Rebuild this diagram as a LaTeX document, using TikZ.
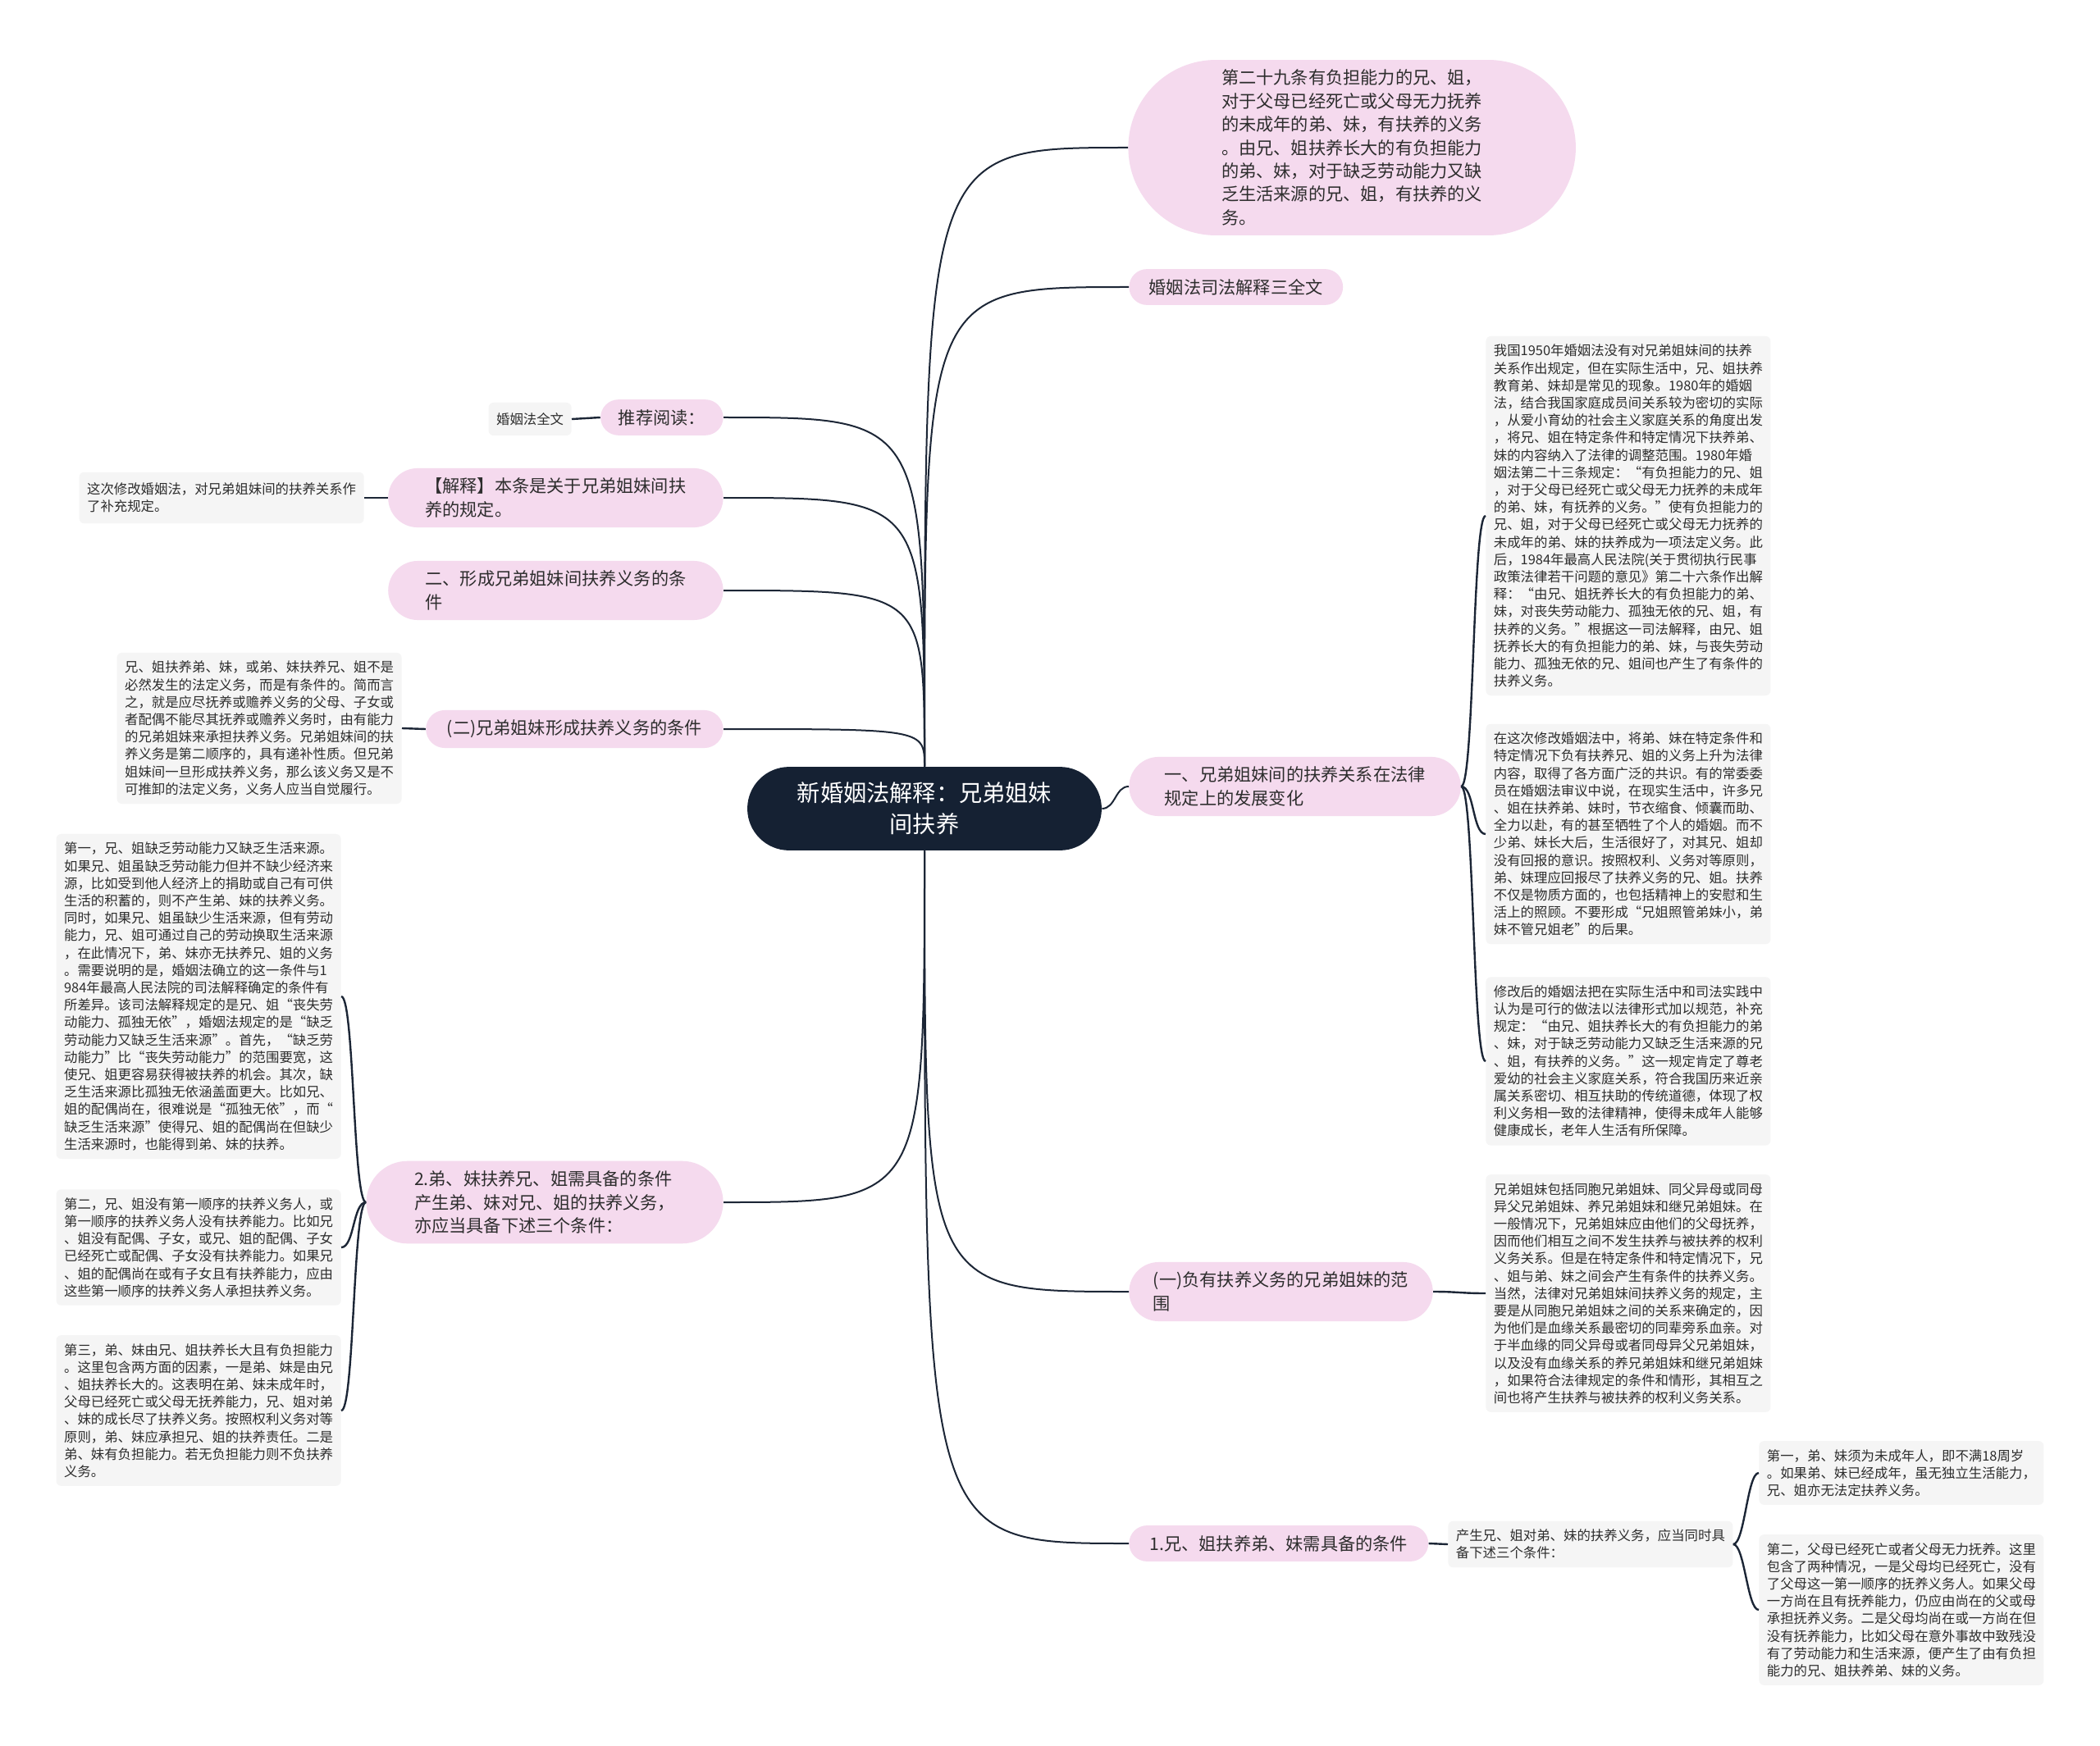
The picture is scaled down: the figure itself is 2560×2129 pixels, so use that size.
\documentclass[tikz,border=0pt]{standalone}
\usepackage{fontspec}
\setmainfont{Noto Sans CJK SC}
\usetikzlibrary{shapes.misc}
\definecolor{pinkfill}{RGB}{245,218,238}
\definecolor{grayfill}{RGB}{245,245,245}
\definecolor{rootfill}{RGB}{21,33,51}
\definecolor{linkcol}{RGB}{28,38,54}
\definecolor{textcol}{RGB}{45,45,45}

\begin{document}
\begin{tikzpicture}[x=0.5pt,y=-0.5pt,
  root/.style={rounded rectangle,fill=rootfill,text=white,align=center,
    inner xsep=24.8pt,inner ysep=9.5pt,font=\fontsize{14.1}{18.8}\selectfont},
  topic/.style={rounded rectangle,fill=pinkfill,text=textcol,align=left,
    inner xsep=11pt,inner ysep=6pt,font=\fontsize{10.6}{14.2}\selectfont},
  bigtopic/.style={topic,inner xsep=18pt},
  note/.style={rectangle,rounded corners=3pt,fill=grayfill,text=textcol,align=left,
    inner xsep=4.75pt,inner ysep=5pt,font=\fontsize{8.2}{10.6}\selectfont},
  link/.style={draw=linkcol,line width=1pt},
  sublink/.style={draw=linkcol,line width=1.2pt}]
\fill[white] (0,0) rectangle (2560,2129);
\useasboundingbox (0,0) rectangle (2560,2129);
% ---- root ----
\node[root] (root) at (1127,986) {新婚姻法解释：兄弟姐妹\\间扶养};
% ---- right: topics ----
\node[topic,anchor=west,inner xsep=28pt] (art29) at (1375,180) {第二十九条有负担能力的兄、姐，\\对于父母已经死亡或父母无力抚养\\的未成年的弟、妹，有扶养的义务\\。由兄、姐扶养长大的有负担能力\\的弟、妹，对于缺乏劳动能力又缺\\乏生活来源的兄、姐，有扶养的义\\务。};
\node[topic,anchor=west] (quanwen) at (1376,350) {婚姻法司法解释三全文};
\node[bigtopic,anchor=west,inner xsep=17pt] (yi) at (1376,959) {一、兄弟姐妹间的扶养关系在法律\\规定上的发展变化};
\node[bigtopic,anchor=west,inner xsep=10.2pt] (fanwei) at (1376,1575) {(一)负有扶养义务的兄弟姐妹的范\\围};
\node[topic,anchor=west,inner xsep=11.4pt] (xiongjie) at (1376,1882) {1.兄、姐扶养弟、妹需具备的条件};
% ---- right: notes ----
\node[note,anchor=west] (rb1) at (1811,629) {我国1950年婚姻法没有对兄弟姐妹间的扶养\\关系作出规定，但在实际生活中，兄、姐扶养\\教育弟、妹却是常见的现象。1980年的婚姻\\法，结合我国家庭成员间关系较为密切的实际\\，从爱小育幼的社会主义家庭关系的角度出发\\，将兄、姐在特定条件和特定情况下扶养弟、\\妹的内容纳入了法律的调整范围。1980年婚\\姻法第二十三条规定：“有负担能力的兄、姐\\，对于父母已经死亡或父母无力抚养的未成年\\的弟、妹，有抚养的义务。”使有负担能力的\\兄、姐，对于父母已经死亡或父母无力抚养的\\未成年的弟、妹的扶养成为一项法定义务。此\\后，1984年最高人民法院(关于贯彻执行民事\\政策法律若干问题的意见》第二十六条作出解\\释：“由兄、姐抚养长大的有负担能力的弟、\\妹，对丧失劳动能力、孤独无依的兄、姐，有\\扶养的义务。”根据这一司法解释，由兄、姐\\抚养长大的有负担能力的弟、妹，与丧失劳动\\能力、孤独无依的兄、姐间也产生了有条件的\\扶养义务。};
\node[note,anchor=west] (rb2) at (1811,1017) {在这次修改婚姻法中，将弟、妹在特定条件和\\特定情况下负有扶养兄、姐的义务上升为法律\\内容，取得了各方面广泛的共识。有的常委委\\员在婚姻法审议中说，在现实生活中，许多兄\\、姐在扶养弟、妹时，节衣缩食、倾囊而助、\\全力以赴，有的甚至牺牲了个人的婚姻。而不\\少弟、妹长大后，生活很好了，对其兄、姐却\\没有回报的意识。按照权利、义务对等原则，\\弟、妹理应回报尽了扶养义务的兄、姐。扶养\\不仅是物质方面的，也包括精神上的安慰和生\\活上的照顾。不要形成“兄姐照管弟妹小，弟\\妹不管兄姐老”的后果。};
\node[note,anchor=west] (rb3) at (1811,1294) {修改后的婚姻法把在实际生活中和司法实践中\\认为是可行的做法以法律形式加以规范，补充\\规定：“由兄、姐扶养长大的有负担能力的弟\\、妹，对于缺乏劳动能力又缺乏生活来源的兄\\、姐，有扶养的义务。”这一规定肯定了尊老\\爱幼的社会主义家庭关系，符合我国历来近亲\\属关系密切、相互扶助的传统道德，体现了权\\利义务相一致的法律精神，使得未成年人能够\\健康成长，老年人生活有所保障。};
\node[note,anchor=west] (rb4) at (1811,1577) {兄弟姐妹包括同胞兄弟姐妹、同父异母或同母\\异父兄弟姐妹、养兄弟姐妹和继兄弟姐妹。在\\一般情况下，兄弟姐妹应由他们的父母抚养，\\因而他们相互之间不发生扶养与被扶养的权利\\义务关系。但是在特定条件和特定情况下，兄\\、姐与弟、妹之间会产生有条件的扶养义务。\\当然，法律对兄弟姐妹间扶养义务的规定，主\\要是从同胞兄弟姐妹之间的关系来确定的，因\\为他们是血缘关系最密切的同辈旁系血亲。对\\于半血缘的同父异母或者同母异父兄弟姐妹，\\以及没有血缘关系的养兄弟姐妹和继兄弟姐妹\\，如果符合法律规定的条件和情形，其相互之\\间也将产生扶养与被扶养的权利义务关系。};
\node[note,anchor=west] (chansheng) at (1765,1883) {产生兄、姐对弟、妹的扶养义务，应当同时具\\备下述三个条件：};
\node[note,anchor=west] (rc1) at (2144,1796) {第一，弟、妹须为未成年人，即不满18周岁\\。如果弟、妹已经成年，虽无独立生活能力，\\兄、姐亦无法定扶养义务。};
\node[note,anchor=west] (rc2) at (2144,1963) {第二，父母已经死亡或者父母无力抚养。这里\\包含了两种情况，一是父母均已经死亡，没有\\了父母这一第一顺序的抚养义务人。如果父母\\一方尚在且有抚养能力，仍应由尚在的父或母\\承担抚养义务。二是父母均尚在或一方尚在但\\没有抚养能力，比如父母在意外事故中致残没\\有了劳动能力和生活来源，便产生了由有负担\\能力的兄、姐扶养弟、妹的义务。};
% ---- left: topics ----
\node[topic,anchor=east,inner xsep=9.7pt] (tuijian) at (882,509) {推荐阅读：};
\node[bigtopic,anchor=east] (jieshi) at (882,607) {【解释】本条是关于兄弟姐妹间扶\\养的规定。};
\node[bigtopic,anchor=east] (erxing) at (882,720) {二、形成兄弟姐妹间扶养义务的条\\件};
\node[topic,anchor=east,inner xsep=11.4pt] (ertiao) at (882,889) {(二)兄弟姐妹形成扶养义务的条件};
\node[bigtopic,anchor=east,inner xsep=20.4pt] (dimei) at (882,1466) {2.弟、妹扶养兄、姐需具备的条件\\产生弟、妹对兄、姐的扶养义务，\\亦应当具备下述三个条件：};
% ---- left: notes ----
\node[note,anchor=east,minimum height=20pt] (quanwenL) at (697,511) {婚姻法全文};
\node[note,anchor=east,inner ysep=6.5pt] (buchong) at (444,607) {这次修改婚姻法，对兄弟姐妹间的扶养关系作\\了补充规定。};
\node[note,anchor=east] (ertiaonote) at (490,888) {兄、姐扶养弟、妹，或弟、妹扶养兄、姐不是\\必然发生的法定义务，而是有条件的。简而言\\之，就是应尽抚养或赡养义务的父母、子女或\\者配偶不能尽其抚养或赡养义务时，由有能力\\的兄弟姐妹来承担扶养义务。兄弟姐妹间的扶\\养义务是第二顺序的，具有递补性质。但兄弟\\姐妹间一旦形成扶养义务，那么该义务又是不\\可推卸的法定义务，义务人应当自觉履行。};
\node[note,anchor=east] (lb1) at (416,1215) {第一，兄、姐缺乏劳动能力又缺乏生活来源。\\如果兄、姐虽缺乏劳动能力但并不缺少经济来\\源，比如受到他人经济上的捐助或自己有可供\\生活的积蓄的，则不产生弟、妹的扶养义务。\\同时，如果兄、姐虽缺少生活来源，但有劳动\\能力，兄、姐可通过自己的劳动换取生活来源\\，在此情况下，弟、妹亦无扶养兄、姐的义务\\。需要说明的是，婚姻法确立的这一条件与1\\984年最高人民法院的司法解释确定的条件有\\所差异。该司法解释规定的是兄、姐“丧失劳\\动能力、孤独无依”，婚姻法规定的是“缺乏\\劳动能力又缺乏生活来源”。首先，“缺乏劳\\动能力”比“丧失劳动能力”的范围要宽，这\\使兄、姐更容易获得被扶养的机会。其次，缺\\乏生活来源比孤独无依涵盖面更大。比如兄、\\姐的配偶尚在，很难说是“孤独无依”，而“\\缺乏生活来源”使得兄、姐的配偶尚在但缺少\\生活来源时，也能得到弟、妹的扶养。};
\node[note,anchor=east] (lb2) at (416,1521) {第二，兄、姐没有第一顺序的扶养义务人，或\\第一顺序的扶养义务人没有扶养能力。比如兄\\、姐没有配偶、子女，或兄、姐的配偶、子女\\已经死亡或配偶、子女没有扶养能力。如果兄\\、姐的配偶尚在或有子女且有扶养能力，应由\\这些第一顺序的扶养义务人承担扶养义务。};
\node[note,anchor=east] (lb3) at (416,1720) {第三，弟、妹由兄、姐扶养长大且有负担能力\\。这里包含两方面的因素，一是弟、妹是由兄\\、姐扶养长大的。这表明在弟、妹未成年时，\\父母已经死亡或父母无抚养能力，兄、姐对弟\\、妹的成长尽了扶养义务。按照权利义务对等\\原则，弟、妹应承担兄、姐的扶养责任。二是\\弟、妹有负担能力。若无负担能力则不负扶养\\义务。};
% ---- links from root ----
\foreach \n in {art29,quanwen}
  \draw[link] (root.north) .. controls (root.north |- \n.west) .. (\n.west);
\foreach \n in {tuijian,jieshi,erxing,ertiao}
  \draw[link] (root.north) .. controls (root.north |- \n.east) .. (\n.east);
\draw[link] (root.east) to[out=0,in=180] (yi.west);
\foreach \n in {fanwei,xiongjie}
  \draw[link] (root.south) .. controls (root.south |- \n.west) .. (\n.west);
\draw[link] (root.south) .. controls (root.south |- dimei.east) .. (dimei.east);
% ---- links to notes ----
\draw[sublink] (tuijian.west) -- (quanwenL.east);
\draw[sublink] (jieshi.west) -- (buchong.east);
\draw[sublink] (ertiao.west) -- (ertiaonote.east);
\draw[sublink] (xiongjie.east) -- (chansheng.west);
\draw[sublink] (fanwei.east) .. controls +(30,0) and +(-30,0) .. (rb4.west);
\foreach \n in {rb1,rb2,rb3}
  \draw[sublink] (yi.east) .. controls +(16,0) and +(-16,0) .. (\n.west);
\foreach \n in {rc1,rc2}
  \draw[sublink] (chansheng.east) .. controls +(14,0) and +(-14,0) .. (\n.west);
\foreach \n in {lb1,lb2,lb3}
  \draw[sublink] (dimei.west) .. controls +(-16,0) and +(16,0) .. (\n.east);
\end{tikzpicture}
\end{document}
